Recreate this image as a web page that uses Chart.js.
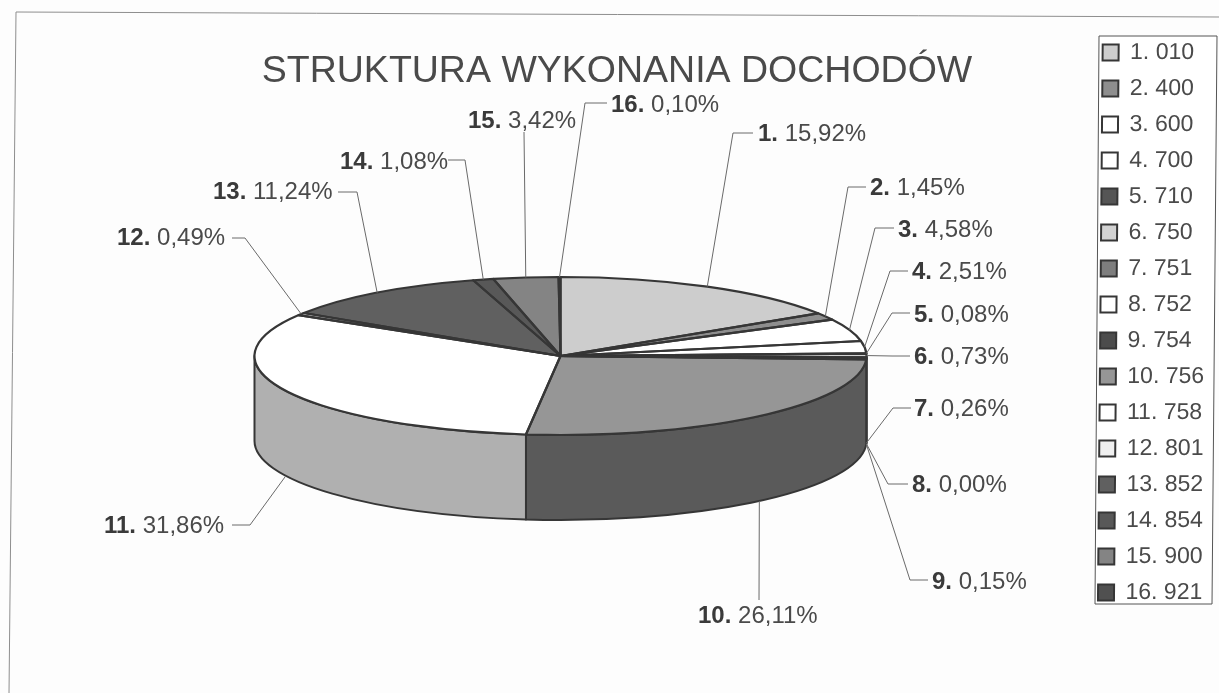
<!DOCTYPE html>
<html><head><meta charset="utf-8">
<script src="https://cdn.jsdelivr.net/npm/chart.js@4/dist/chart.umd.min.js"></script>
<style>html,body{margin:0;padding:0;background:#fdfdfd}canvas{display:block}</style>
</head><body>
<canvas id="c" width="1219" height="693"></canvas>
<script>
const titleText = 'STRUKTURA WYKONANIA DOCHODÓW';
const categories = ['1. 010','2. 400','3. 600','4. 700','5. 710','6. 750','7. 751','8. 752','9. 754','10. 756','11. 758','12. 801','13. 852','14. 854','15. 900','16. 921'];
const shares = [15.92,1.45,4.58,2.51,0.08,0.73,0.26,0.00,0.15,26.11,31.86,0.49,11.24,1.08,3.42,0.10];
const topColors = ['#cdcdcd','#8e8e8e','#ffffff','#ffffff','#555555','#d2d2d2','#7e7e7e','#ffffff','#4c4c4c','#969696','#ffffff','#f0f0f0','#606060','#585858','#848484','#505050'];
const sideColors = ['#a0a0a0','#666666','#c8c8c8','#c8c8c8','#404040','#a0a0a0','#5e5e5e','#c8c8c8','#3c3c3c','#5a5a5a','#b0b0b0','#bdbdbd','#4c4c4c','#444444','#636363','#3a3a3a'];
const INK = '#363636';

// label placement: text start, text baseline, then leader elbow and end
const labelX  = [758,870,898,912,914,914,914,912,932,698,104,117,213,340,468,611];
const labelY  = [141,195,237,279,322,364,416,492,589,623,533,245,199,169,128,112];
const elbowX  = [733,848,875,890,892,892,893,888,910,759,250,245,357,465,524,585];
const elbowY  = [133,187,228,271,313,356,408,484,580,600,525,238,192,160,132,103];
const endX    = [753,866,894,908,910,910,911,908,928,759,232,232,338,448,524,607];
const endY    = [133,187,228,271,313,356,408,484,580,600,525,238,192,160,132,103];

const pie = {cx:560.5, cy:356, radius:306, ry:79, depth:85};

const pie3d = {
  id:'pie3d',
  afterLayout(chart){
    const lg = chart.legend;
    if(lg && !lg._sheared){
      lg._sheared = true;
      const orig = lg.draw;
      lg.draw = function(){
        const c = chart.ctx; c.save();
        c.transform(1,0,-0.0085,1,0.0085*36,0);
        orig.call(lg); c.restore();
      };
    }
  },
  beforeDraw(chart){
    const c = chart.ctx; c.save();
    c.fillStyle = '#fdfdfd'; c.fillRect(0,0,chart.width,chart.height);
    c.strokeStyle = '#8e8e8e'; c.lineWidth = 1;
    c.beginPath(); c.moveTo(9,693); c.lineTo(16,12); c.lineTo(1219,17); c.stroke();
    c.fillStyle = '#ffffff'; c.strokeStyle = '#555555';
    c.beginPath(); c.moveTo(1099,36); c.lineTo(1217,36); c.lineTo(1212,604); c.lineTo(1095,604); c.closePath();
    c.fill(); c.stroke();
    c.restore();
  },
  beforeDatasetsDraw(chart){
    const c = chart.ctx, arcs = chart.getDatasetMeta(0).data;
    c.save(); c.strokeStyle = INK; c.lineJoin = 'round';
    arcs.forEach((a,i)=>{
      const s = Math.max(a.startAngle,0), e = Math.min(a.endAngle,Math.PI);
      if(e <= s) return;
      c.beginPath();
      c.ellipse(pie.cx,pie.cy,pie.radius,pie.ry,0,s,e);
      c.ellipse(pie.cx,pie.cy+pie.depth,pie.radius,pie.ry,0,e,s,true);
      c.closePath();
      c.fillStyle = sideColors[i]; c.fill();
      c.lineWidth = 2; c.stroke();
    });
    c.restore();
    const a0 = arcs[0];
    c.save();
    c.translate(pie.cx,pie.cy); c.scale(1,pie.ry/pie.radius); c.translate(-a0.x,-a0.y);
  },
  afterDatasetsDraw(chart){
    const c = chart.ctx, arcs = chart.getDatasetMeta(0).data;
    c.restore();
    c.save(); c.strokeStyle = INK; c.lineWidth = 2.2; c.lineJoin = 'round';
    arcs.forEach(a=>{
      c.beginPath(); c.moveTo(pie.cx,pie.cy);
      c.ellipse(pie.cx,pie.cy,pie.radius,pie.ry,0,a.startAngle,a.endAngle);
      c.closePath(); c.stroke();
    });
    c.restore();
  },
  afterDraw(chart){
    const c = chart.ctx, arcs = chart.getDatasetMeta(0).data;
    c.save();
    arcs.forEach((a,i)=>{
      const m = (a.startAngle+a.endAngle)/2;
      const sx = pie.cx+pie.radius*Math.cos(m);
      const sy = pie.cy+pie.ry*Math.sin(m)+(Math.sin(m)>0?pie.depth:0);
      c.strokeStyle = '#6a6a6a'; c.lineWidth = 1;
      c.beginPath(); c.moveTo(sx,sy); c.lineTo(elbowX[i],elbowY[i]); c.lineTo(endX[i],endY[i]); c.stroke();
      const idx = (i+1)+'.', val = ' '+shares[i].toFixed(2).replace('.',',')+'%';
      c.fillStyle = '#3a3a3a'; c.textBaseline = 'alphabetic'; c.textAlign = 'left';
      c.font = 'bold 24px "Liberation Sans"';
      c.fillText(idx,labelX[i],labelY[i]);
      const w = c.measureText(idx).width;
      c.font = '24px "Liberation Sans"'; c.fillStyle = '#4a4a4a';
      c.fillText(val,labelX[i]+w,labelY[i]);
    });
    c.restore();
  }
};

new Chart(document.getElementById('c'),{
  type:'pie',
  data:{labels:categories,datasets:[{data:shares,backgroundColor:topColors,borderWidth:0,clip:false}]},
  plugins:[pie3d],
  options:{
    responsive:false,animation:false,events:[],
    radius:306,
    layout:{padding:{top:28,right:2,left:17,bottom:0}},
    plugins:{
      tooltip:{enabled:false},
      title:{display:true,text:titleText,color:'#4a4a4a',font:{family:'"Liberation Sans"',size:37.5,weight:'normal'},padding:{top:21,bottom:10}},
      legend:{
        position:'right',align:'start',
        labels:{
          font:{family:'"Liberation Sans"',size:23},color:'#4a4a4a',
          boxWidth:16,boxHeight:16,padding:13,
          generateLabels(chart){
            return chart.data.labels.map((t,i)=>({text:t,fillStyle:topColors[i],strokeStyle:INK,lineWidth:2,fontColor:'#4a4a4a',index:i}));
          }
        }
      }
    }
  }
});
</script>
</body></html>
